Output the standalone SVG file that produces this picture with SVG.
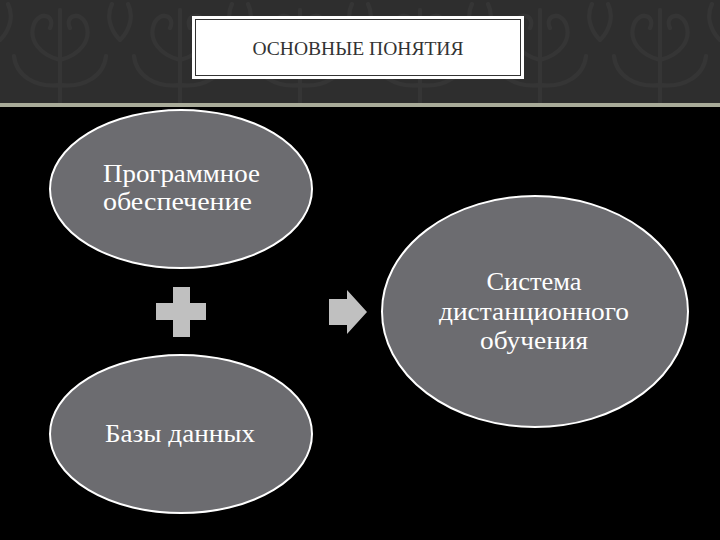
<svg xmlns="http://www.w3.org/2000/svg" width="720" height="540" viewBox="0 0 720 540">
  <defs>
    <style>
      .node ellipse { fill: #6c6c70; stroke: #ffffff; stroke-width: 2; }
      .label { font-size: 26px; fill: #ffffff; }
      .sym { fill: #c0c0c0; }
      .title { font-size: 19px; fill: #333333; }
      .damask { fill: none; stroke: #353535; stroke-width: 4; stroke-linecap: round; }
    </style>
    <pattern id="dm" x="0" y="0" width="120" height="104" patternUnits="userSpaceOnUse">
      <rect width="120" height="104" fill="#2e2e2e"/>
      <path class="damask" d="M60 104 C60 70 60 40 60 10 M60 60 C40 55 28 40 34 24 C40 10 56 16 50 28 M60 60 C80 55 92 40 86 24 C80 10 64 16 70 28 M60 85 C36 88 16 76 14 56 M60 85 C84 88 104 76 106 56"/>
      <path class="damask" d="M0 40 C10 30 14 16 8 4 M120 40 C110 30 106 16 112 4"/>
    </pattern>
  </defs>

  <rect x="0" y="0" width="720" height="540" fill="#000000"/>
  <rect x="0" y="0" width="720" height="103" fill="url(#dm)"/>
  <rect x="0" y="103" width="720" height="4" fill="#a9ab99"/>

  <g id="title" font-family="'Liberation Serif', 'DejaVu Serif', serif">
    <rect x="192" y="16" width="332" height="63" fill="#ffffff"/>
    <rect x="195.5" y="19.5" width="325" height="56" fill="none" stroke="#333333" stroke-width="1"/>
    <text class="title" x="358" y="55" text-anchor="middle" textLength="211" lengthAdjust="spacingAndGlyphs">ОСНОВНЫЕ ПОНЯТИЯ</text>
  </g>

  <g id="node-software" class="node" font-family="'Liberation Serif', 'DejaVu Serif', serif">
    <ellipse cx="181" cy="189" rx="131" ry="79"/>
    <text class="label" x="103" y="182" textLength="157" lengthAdjust="spacingAndGlyphs">Программное</text>
    <text class="label" x="103" y="210" textLength="149" lengthAdjust="spacingAndGlyphs">обеспечение</text>
  </g>

  <g id="node-databases" class="node" font-family="'Liberation Serif', 'DejaVu Serif', serif">
    <ellipse cx="181" cy="434" rx="131" ry="79"/>
    <text class="label" x="105" y="442" textLength="150" lengthAdjust="spacingAndGlyphs">Базы данных</text>
  </g>

  <g id="node-system" class="node" font-family="'Liberation Serif', 'DejaVu Serif', serif">
    <ellipse cx="535" cy="311.5" rx="153" ry="115.5"/>
    <text class="label" x="534" y="290" text-anchor="middle" textLength="95" lengthAdjust="spacingAndGlyphs">Система</text>
    <text class="label" x="534" y="320" text-anchor="middle" textLength="190" lengthAdjust="spacingAndGlyphs">дистанционного</text>
    <text class="label" x="534" y="349" text-anchor="middle" textLength="108" lengthAdjust="spacingAndGlyphs">обучения</text>
  </g>

  <g id="connectors">
    <path id="plus" class="sym" d="M173 287 H190 V303 H206 V320 H190 V337 H173 V320 H156 V303 H173 Z"/>
    <path id="arrow" class="sym" d="M329 299 H347 V290 L367 312 L347 334 V325 H329 Z"/>
  </g>
</svg>
